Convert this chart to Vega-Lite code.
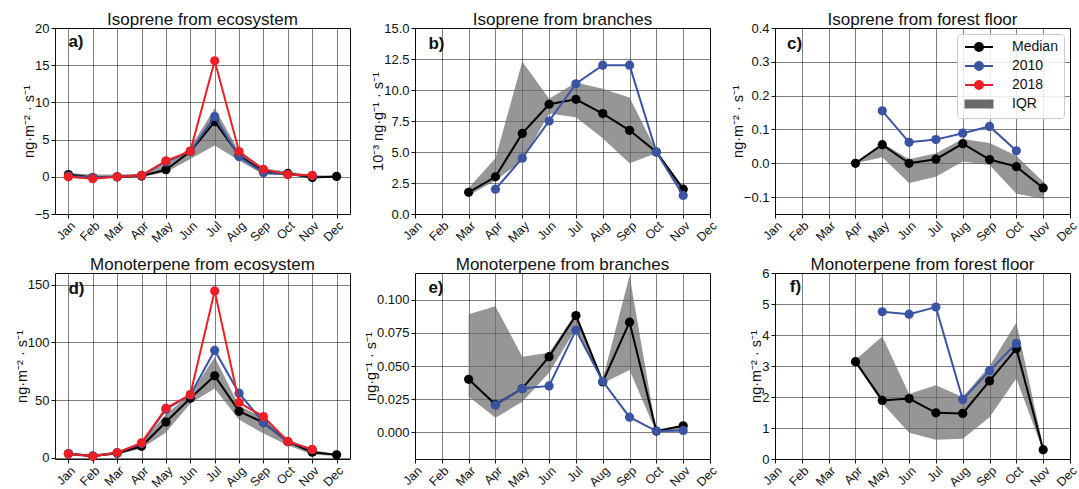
{
  "$schema": "https://vega.github.io/schema/vega-lite/v6.json",
  "padding": {"left": 13, "top": 10, "right": 8, "bottom": 2},
  "background": "white",
  "config": {
    "font": "Liberation Sans",
    "view": {"stroke": "#111111", "strokeWidth": 1},
    "axis": {"domain": false, "tickColor": "#111111", "tickSize": 4, "tickCount": 20, "labelFontSize": 13, "labelColor": "#111111", "labelFont": "Liberation Sans", "titleFont": "Liberation Sans", "titleFontSize": 14.5, "titleFontWeight": "normal", "titleColor": "#111111", "grid": true, "gridColor": "#000000", "gridOpacity": 0.5, "gridWidth": 1, "labelPadding": 2, "titlePadding": -2, "labelOverlap": false, "labelFlush": false, "labelBound": false},
    "title": {"font": "Liberation Sans", "fontSize": 17, "fontWeight": "normal", "color": "#111111", "offset": 1}
  },
  "data": {"values": [
    {"p":"a","s":"Median","m":1,"v":0.3},{"p":"a","s":"Median","m":2,"v":-0.1},{"p":"a","s":"Median","m":3,"v":0.0},{"p":"a","s":"Median","m":4,"v":0.1},{"p":"a","s":"Median","m":5,"v":0.95},{"p":"a","s":"Median","m":6,"v":3.4},{"p":"a","s":"Median","m":7,"v":7.4},{"p":"a","s":"Median","m":8,"v":2.9},{"p":"a","s":"Median","m":9,"v":0.7},{"p":"a","s":"Median","m":10,"v":0.45},{"p":"a","s":"Median","m":11,"v":-0.1},{"p":"a","s":"Median","m":12,"v":0.05},
    {"p":"a","s":"2010","m":1,"v":0.1},{"p":"a","s":"2010","m":2,"v":-0.1},{"p":"a","s":"2010","m":3,"v":0.0},{"p":"a","s":"2010","m":4,"v":0.2},{"p":"a","s":"2010","m":5,"v":2.0},{"p":"a","s":"2010","m":6,"v":3.4},{"p":"a","s":"2010","m":7,"v":8.1},{"p":"a","s":"2010","m":8,"v":2.7},{"p":"a","s":"2010","m":9,"v":0.55},{"p":"a","s":"2010","m":10,"v":0.3},{"p":"a","s":"2010","m":11,"v":0.15},
    {"p":"a","s":"2018","m":1,"v":0.0},{"p":"a","s":"2018","m":2,"v":-0.25},{"p":"a","s":"2018","m":3,"v":0.0},{"p":"a","s":"2018","m":4,"v":0.2},{"p":"a","s":"2018","m":5,"v":2.15},{"p":"a","s":"2018","m":6,"v":3.45},{"p":"a","s":"2018","m":7,"v":15.6},{"p":"a","s":"2018","m":8,"v":3.4},{"p":"a","s":"2018","m":9,"v":1.0},{"p":"a","s":"2018","m":10,"v":0.3},{"p":"a","s":"2018","m":11,"v":0.2},
    {"p":"a","s":"IQR","m":1,"lo":-0.1,"hi":0.5},{"p":"a","s":"IQR","m":2,"lo":-0.3,"hi":0.3},{"p":"a","s":"IQR","m":3,"lo":-0.1,"hi":0.3},{"p":"a","s":"IQR","m":4,"lo":0.0,"hi":0.4},{"p":"a","s":"IQR","m":5,"lo":0.6,"hi":1.7},{"p":"a","s":"IQR","m":6,"lo":2.4,"hi":3.9},{"p":"a","s":"IQR","m":7,"lo":4.2,"hi":9.2},{"p":"a","s":"IQR","m":8,"lo":2.2,"hi":3.4},{"p":"a","s":"IQR","m":9,"lo":0.3,"hi":1.1},{"p":"a","s":"IQR","m":10,"lo":0.2,"hi":0.7},{"p":"a","s":"IQR","m":11,"lo":-0.2,"hi":0.2},{"p":"a","s":"IQR","m":12,"lo":0.0,"hi":0.15},

    {"p":"b","s":"Median","m":3,"v":1.75},{"p":"b","s":"Median","m":4,"v":3.0},{"p":"b","s":"Median","m":5,"v":6.5},{"p":"b","s":"Median","m":6,"v":8.85},{"p":"b","s":"Median","m":7,"v":9.25},{"p":"b","s":"Median","m":8,"v":8.1},{"p":"b","s":"Median","m":9,"v":6.75},{"p":"b","s":"Median","m":10,"v":5.0},{"p":"b","s":"Median","m":11,"v":2.0},
    {"p":"b","s":"2010","m":4,"v":2.0},{"p":"b","s":"2010","m":5,"v":4.5},{"p":"b","s":"2010","m":6,"v":7.5},{"p":"b","s":"2010","m":7,"v":10.5},{"p":"b","s":"2010","m":8,"v":12.0},{"p":"b","s":"2010","m":9,"v":12.0},{"p":"b","s":"2010","m":10,"v":5.0},{"p":"b","s":"2010","m":11,"v":1.5},
    {"p":"b","s":"IQR","m":3,"lo":1.5,"hi":2.1},{"p":"b","s":"IQR","m":4,"lo":2.7,"hi":4.5},{"p":"b","s":"IQR","m":5,"lo":4.3,"hi":12.3},{"p":"b","s":"IQR","m":6,"lo":8.1,"hi":9.3},{"p":"b","s":"IQR","m":7,"lo":7.8,"hi":10.6},{"p":"b","s":"IQR","m":8,"lo":6.1,"hi":10.1},{"p":"b","s":"IQR","m":9,"lo":4.1,"hi":9.4},{"p":"b","s":"IQR","m":10,"lo":4.9,"hi":5.1},{"p":"b","s":"IQR","m":11,"lo":1.7,"hi":2.2},

    {"p":"c","s":"Median","m":4,"v":0.0},{"p":"c","s":"Median","m":5,"v":0.055},{"p":"c","s":"Median","m":6,"v":0.0},{"p":"c","s":"Median","m":7,"v":0.012},{"p":"c","s":"Median","m":8,"v":0.058},{"p":"c","s":"Median","m":9,"v":0.011},{"p":"c","s":"Median","m":10,"v":-0.01},{"p":"c","s":"Median","m":11,"v":-0.073},
    {"p":"c","s":"2010","m":5,"v":0.155},{"p":"c","s":"2010","m":6,"v":0.062},{"p":"c","s":"2010","m":7,"v":0.07},{"p":"c","s":"2010","m":8,"v":0.089},{"p":"c","s":"2010","m":9,"v":0.109},{"p":"c","s":"2010","m":10,"v":0.037},
    {"p":"c","s":"IQR","m":4,"lo":0.0,"hi":0.002},{"p":"c","s":"IQR","m":5,"lo":0.018,"hi":0.06},{"p":"c","s":"IQR","m":6,"lo":-0.058,"hi":0.012},{"p":"c","s":"IQR","m":7,"lo":-0.04,"hi":0.03},{"p":"c","s":"IQR","m":8,"lo":0.005,"hi":0.072},{"p":"c","s":"IQR","m":9,"lo":-0.005,"hi":0.06},{"p":"c","s":"IQR","m":10,"lo":-0.09,"hi":0.022},{"p":"c","s":"IQR","m":11,"lo":-0.105,"hi":-0.055},

    {"p":"d","s":"Median","m":1,"v":3.5},{"p":"d","s":"Median","m":2,"v":1.5},{"p":"d","s":"Median","m":3,"v":4.0},{"p":"d","s":"Median","m":4,"v":10.0},{"p":"d","s":"Median","m":5,"v":31},{"p":"d","s":"Median","m":6,"v":51.5},{"p":"d","s":"Median","m":7,"v":71},{"p":"d","s":"Median","m":8,"v":40.3},{"p":"d","s":"Median","m":9,"v":30.5},{"p":"d","s":"Median","m":10,"v":14},{"p":"d","s":"Median","m":11,"v":4.9},{"p":"d","s":"Median","m":12,"v":2.6},
    {"p":"d","s":"2010","m":1,"v":3.5},{"p":"d","s":"2010","m":2,"v":1.5},{"p":"d","s":"2010","m":3,"v":4.5},{"p":"d","s":"2010","m":4,"v":12.5},{"p":"d","s":"2010","m":5,"v":42},{"p":"d","s":"2010","m":6,"v":54.5},{"p":"d","s":"2010","m":7,"v":93},{"p":"d","s":"2010","m":8,"v":56},{"p":"d","s":"2010","m":9,"v":30.5},{"p":"d","s":"2010","m":10,"v":14},{"p":"d","s":"2010","m":11,"v":7},
    {"p":"d","s":"2018","m":1,"v":3.5},{"p":"d","s":"2018","m":2,"v":1.3},{"p":"d","s":"2018","m":3,"v":4.4},{"p":"d","s":"2018","m":4,"v":13},{"p":"d","s":"2018","m":5,"v":43},{"p":"d","s":"2018","m":6,"v":54.8},{"p":"d","s":"2018","m":7,"v":144.5},{"p":"d","s":"2018","m":8,"v":47.9},{"p":"d","s":"2018","m":9,"v":35.7},{"p":"d","s":"2018","m":10,"v":14.2},{"p":"d","s":"2018","m":11,"v":7.3},
    {"p":"d","s":"IQR","m":1,"lo":2,"hi":4.5},{"p":"d","s":"IQR","m":2,"lo":0.5,"hi":3},{"p":"d","s":"IQR","m":3,"lo":3,"hi":5.5},{"p":"d","s":"IQR","m":4,"lo":8,"hi":13},{"p":"d","s":"IQR","m":5,"lo":22,"hi":38},{"p":"d","s":"IQR","m":6,"lo":47,"hi":55},{"p":"d","s":"IQR","m":7,"lo":60,"hi":87},{"p":"d","s":"IQR","m":8,"lo":33,"hi":45},{"p":"d","s":"IQR","m":9,"lo":21,"hi":35},{"p":"d","s":"IQR","m":10,"lo":11,"hi":16},{"p":"d","s":"IQR","m":11,"lo":3,"hi":7},{"p":"d","s":"IQR","m":12,"lo":1.5,"hi":3},

    {"p":"e","s":"Median","m":3,"v":0.040},{"p":"e","s":"Median","m":4,"v":0.021},{"p":"e","s":"Median","m":5,"v":0.033},{"p":"e","s":"Median","m":6,"v":0.057},{"p":"e","s":"Median","m":7,"v":0.088},{"p":"e","s":"Median","m":8,"v":0.038},{"p":"e","s":"Median","m":9,"v":0.083},{"p":"e","s":"Median","m":10,"v":0.001},{"p":"e","s":"Median","m":11,"v":0.005},
    {"p":"e","s":"2010","m":4,"v":0.0205},{"p":"e","s":"2010","m":5,"v":0.033},{"p":"e","s":"2010","m":6,"v":0.035},{"p":"e","s":"2010","m":7,"v":0.077},{"p":"e","s":"2010","m":8,"v":0.0385},{"p":"e","s":"2010","m":9,"v":0.0115},{"p":"e","s":"2010","m":10,"v":0.001},{"p":"e","s":"2010","m":11,"v":0.0015},
    {"p":"e","s":"IQR","m":3,"lo":0.027,"hi":0.089},{"p":"e","s":"IQR","m":4,"lo":0.011,"hi":0.095},{"p":"e","s":"IQR","m":5,"lo":0.023,"hi":0.057},{"p":"e","s":"IQR","m":6,"lo":0.045,"hi":0.060},{"p":"e","s":"IQR","m":7,"lo":0.078,"hi":0.090},{"p":"e","s":"IQR","m":8,"lo":0.037,"hi":0.040},{"p":"e","s":"IQR","m":9,"lo":0.047,"hi":0.118},{"p":"e","s":"IQR","m":10,"lo":0.0,"hi":0.001},{"p":"e","s":"IQR","m":11,"lo":0.001,"hi":0.005},

    {"p":"f","s":"Median","m":4,"v":3.14},{"p":"f","s":"Median","m":5,"v":1.89},{"p":"f","s":"Median","m":6,"v":1.95},{"p":"f","s":"Median","m":7,"v":1.49},{"p":"f","s":"Median","m":8,"v":1.47},{"p":"f","s":"Median","m":9,"v":2.52},{"p":"f","s":"Median","m":10,"v":3.56},{"p":"f","s":"Median","m":11,"v":0.3},
    {"p":"f","s":"2010","m":5,"v":4.75},{"p":"f","s":"2010","m":6,"v":4.67},{"p":"f","s":"2010","m":7,"v":4.9},{"p":"f","s":"2010","m":8,"v":1.92},{"p":"f","s":"2010","m":9,"v":2.85},{"p":"f","s":"2010","m":10,"v":3.73},
    {"p":"f","s":"IQR","m":4,"lo":3.1,"hi":3.2},{"p":"f","s":"IQR","m":5,"lo":1.8,"hi":3.95},{"p":"f","s":"IQR","m":6,"lo":0.85,"hi":2.1},{"p":"f","s":"IQR","m":7,"lo":0.62,"hi":2.38},{"p":"f","s":"IQR","m":8,"lo":0.65,"hi":2.0},{"p":"f","s":"IQR","m":9,"lo":1.35,"hi":3.0},{"p":"f","s":"IQR","m":10,"lo":2.6,"hi":4.4},{"p":"f","s":"IQR","m":11,"lo":0.25,"hi":0.4}
  ]},
  "columns": 3,
  "spacing": {"row": 59, "column": 65},
  "bounds": "flush",
  "resolve": {"scale": {"color": "independent", "x": "independent", "y": "independent"}, "legend": {"color": "independent"}},
  "concat": [
    {
      "width": 295, "height": 186,
      "title": {"text": "Isoprene from ecosystem", "offset": -6.5},
      "transform": [{"filter": "datum.p === 'a'"}],
      "encoding": {"x": {"field": "m", "type": "quantitative", "scale": {"domain": [0.45, 12.55], "nice": false, "zero": false}, "axis": {"values": [1,2,3,4,5,6,7,8,9,10,11,12], "tickCount": 20, "labelExpr": "['Jan','Feb','Mar','Apr','May','Jun','Jul','Aug','Sep','Oct','Nov','Dec'][round(datum.value)-1]", "labelAngle": -45, "labelAlign": "right", "labelBaseline": "top", "labelFontSize": 12.5, "labelPadding": 1, "labelOverlap": false, "title": null}}},
      "layer": [
        {"transform": [{"filter": "datum.s === 'IQR'"}], "mark": {"type": "area", "opacity": 0.7}, "encoding": {"y": {"field": "lo", "type": "quantitative", "title": "ng·m⁻² · s⁻¹", "scale": {"domain": [-5, 20], "nice": false, "zero": false}, "axis": {"values": [-5,0,5,10,15,20], "tickCount": 20, "format": "d", "labelOverlap": false}}, "y2": {"field": "hi"}, "color": {"field": "s", "type": "nominal", "scale": {"domain": ["Median","2010","2018","IQR"], "range": ["#000000","#3a54a4","#ed1f24","#6a6a6a"]}, "legend": null}}},
        {"transform": [{"filter": "datum.s === 'Median'"}], "mark": {"type": "line", "strokeWidth": 2}, "encoding": {"y": {"field": "v", "type": "quantitative", "title": "ng·m⁻² · s⁻¹"}, "color": {"field": "s", "type": "nominal", "legend": null}}},
        {"transform": [{"filter": "datum.s === 'Median'"}], "mark": {"type": "point", "filled": true, "size": 85, "opacity": 1}, "encoding": {"y": {"field": "v", "type": "quantitative", "title": "ng·m⁻² · s⁻¹"}, "color": {"field": "s", "type": "nominal", "legend": null}}},
        {"transform": [{"filter": "datum.s === '2010'"}], "mark": {"type": "line", "strokeWidth": 2}, "encoding": {"y": {"field": "v", "type": "quantitative", "title": "ng·m⁻² · s⁻¹"}, "color": {"field": "s", "type": "nominal", "legend": null}}},
        {"transform": [{"filter": "datum.s === '2010'"}], "mark": {"type": "point", "filled": true, "size": 85, "opacity": 1}, "encoding": {"y": {"field": "v", "type": "quantitative", "title": "ng·m⁻² · s⁻¹"}, "color": {"field": "s", "type": "nominal", "legend": null}}},
        {"transform": [{"filter": "datum.s === '2018'"}], "mark": {"type": "line", "strokeWidth": 2}, "encoding": {"y": {"field": "v", "type": "quantitative", "title": "ng·m⁻² · s⁻¹"}, "color": {"field": "s", "type": "nominal", "legend": null}}},
        {"transform": [{"filter": "datum.s === '2018'"}], "mark": {"type": "point", "filled": true, "size": 85, "opacity": 1}, "encoding": {"y": {"field": "v", "type": "quantitative", "title": "ng·m⁻² · s⁻¹"}, "color": {"field": "s", "type": "nominal", "legend": null}}},
        {"transform": [{"filter": "datum.s === 'Median' && datum.m === 7"}], "mark": {"type": "text", "font": "Liberation Sans", "fontWeight": "bold", "fontSize": 17, "align": "left", "baseline": "middle", "color": "#111111"}, "encoding": {"x": {"datum": 1, "type": "quantitative"}, "y": {"datum": 18.1, "type": "quantitative", "title": "ng·m⁻² · s⁻¹"}, "text": {"value": "a)"}}}
      ]
    },
    {
      "width": 295, "height": 186,
      "title": {"text": "Isoprene from branches", "offset": -6.5},
      "transform": [{"filter": "datum.p === 'b'"}],
      "encoding": {"x": {"field": "m", "type": "quantitative", "scale": {"domain": [1, 12], "nice": false, "zero": false}, "axis": {"values": [1,2,3,4,5,6,7,8,9,10,11,12], "tickCount": 20, "labelExpr": "['Jan','Feb','Mar','Apr','May','Jun','Jul','Aug','Sep','Oct','Nov','Dec'][round(datum.value)-1]", "labelAngle": -45, "labelAlign": "right", "labelBaseline": "top", "labelFontSize": 12.5, "labelPadding": 1, "labelOverlap": false, "title": null}}},
      "layer": [
        {"transform": [{"filter": "datum.s === 'IQR'"}], "mark": {"type": "area", "opacity": 0.7}, "encoding": {"y": {"field": "lo", "type": "quantitative", "title": "10⁻³ ng·g⁻¹ · s⁻¹", "scale": {"domain": [0, 15], "nice": false, "zero": false}, "axis": {"values": [0,2.5,5,7.5,10,12.5,15], "tickCount": 20, "format": ".1f", "labelOverlap": false}}, "y2": {"field": "hi"}, "color": {"field": "s", "type": "nominal", "scale": {"domain": ["Median","2010","2018","IQR"], "range": ["#000000","#3a54a4","#ed1f24","#6a6a6a"]}, "legend": null}}},
        {"transform": [{"filter": "datum.s === 'Median'"}], "mark": {"type": "line", "strokeWidth": 2}, "encoding": {"y": {"field": "v", "type": "quantitative", "title": "10⁻³ ng·g⁻¹ · s⁻¹"}, "color": {"field": "s", "type": "nominal", "legend": null}}},
        {"transform": [{"filter": "datum.s === 'Median'"}], "mark": {"type": "point", "filled": true, "size": 85, "opacity": 1}, "encoding": {"y": {"field": "v", "type": "quantitative", "title": "10⁻³ ng·g⁻¹ · s⁻¹"}, "color": {"field": "s", "type": "nominal", "legend": null}}},
        {"transform": [{"filter": "datum.s === '2010'"}], "mark": {"type": "line", "strokeWidth": 2}, "encoding": {"y": {"field": "v", "type": "quantitative", "title": "10⁻³ ng·g⁻¹ · s⁻¹"}, "color": {"field": "s", "type": "nominal", "legend": null}}},
        {"transform": [{"filter": "datum.s === '2010'"}], "mark": {"type": "point", "filled": true, "size": 85, "opacity": 1}, "encoding": {"y": {"field": "v", "type": "quantitative", "title": "10⁻³ ng·g⁻¹ · s⁻¹"}, "color": {"field": "s", "type": "nominal", "legend": null}}},
        {"transform": [{"filter": "datum.s === 'Median' && datum.m === 7"}], "mark": {"type": "text", "font": "Liberation Sans", "fontWeight": "bold", "fontSize": 17, "align": "left", "baseline": "middle", "color": "#111111"}, "encoding": {"x": {"datum": 1.5, "type": "quantitative"}, "y": {"datum": 13.7, "type": "quantitative", "title": "10⁻³ ng·g⁻¹ · s⁻¹"}, "text": {"value": "b)"}}}
      ]
    },
    {
      "width": 295, "height": 186,
      "title": {"text": "Isoprene from forest floor", "offset": -6.5},
      "transform": [{"filter": "datum.p === 'c'"}],
      "encoding": {"x": {"field": "m", "type": "quantitative", "scale": {"domain": [1, 12], "nice": false, "zero": false}, "axis": {"values": [1,2,3,4,5,6,7,8,9,10,11,12], "tickCount": 20, "labelExpr": "['Jan','Feb','Mar','Apr','May','Jun','Jul','Aug','Sep','Oct','Nov','Dec'][round(datum.value)-1]", "labelAngle": -45, "labelAlign": "right", "labelBaseline": "top", "labelFontSize": 12.5, "labelPadding": 1, "labelOverlap": false, "title": null}}},
      "layer": [
        {"transform": [{"filter": "datum.s === 'IQR'"}], "mark": {"type": "area", "opacity": 0.7}, "encoding": {"y": {"field": "lo", "type": "quantitative", "title": "ng·m⁻² · s⁻¹", "scale": {"domain": [-0.15, 0.4], "nice": false, "zero": false}, "axis": {"values": [-0.1,0,0.1,0.2,0.3,0.4], "tickCount": 20, "format": ".1f", "labelOverlap": false}}, "y2": {"field": "hi"}, "color": {"field": "s", "type": "nominal", "scale": {"domain": ["Median","2010","2018","IQR"], "range": ["#000000","#3a54a4","#ed1f24","#6a6a6a"]},
          "legend": {"orient": "top-right", "offset": 6, "title": null, "labelFont": "Liberation Sans", "labelFontSize": 14, "labelColor": "#111111", "symbolSize": 100, "symbolOffset": 9, "labelOffset": 26, "symbolStrokeWidth": 2, "padding": 6, "rowPadding": 3, "fillColor": "rgba(255,255,255,0.85)", "strokeColor": "#cccccc", "cornerRadius": 3,
            "symbolType": {"expr": "datum.value === 'IQR' ? 'M-2.7,-0.7H2.7V0.7H-2.7Z' : 'M-2.8,0H2.8M0.8,0A0.8,0.8,0,1,1,-0.8,0A0.8,0.8,0,1,1,0.8,0Z'"},
            "symbolOpacity": {"expr": "datum.value === 'IQR' ? 0.65 : 1"}}}}},
        {"transform": [{"filter": "datum.s === 'Median'"}], "mark": {"type": "line", "strokeWidth": 2}, "encoding": {"y": {"field": "v", "type": "quantitative", "title": "ng·m⁻² · s⁻¹"}, "color": {"field": "s", "type": "nominal"}}},
        {"transform": [{"filter": "datum.s === 'Median'"}], "mark": {"type": "point", "filled": true, "size": 85, "opacity": 1}, "encoding": {"y": {"field": "v", "type": "quantitative", "title": "ng·m⁻² · s⁻¹"}, "color": {"field": "s", "type": "nominal"}}},
        {"transform": [{"filter": "datum.s === '2010'"}], "mark": {"type": "line", "strokeWidth": 2}, "encoding": {"y": {"field": "v", "type": "quantitative", "title": "ng·m⁻² · s⁻¹"}, "color": {"field": "s", "type": "nominal"}}},
        {"transform": [{"filter": "datum.s === '2010'"}], "mark": {"type": "point", "filled": true, "size": 85, "opacity": 1}, "encoding": {"y": {"field": "v", "type": "quantitative", "title": "ng·m⁻² · s⁻¹"}, "color": {"field": "s", "type": "nominal"}}},
        {"transform": [{"filter": "datum.s === 'Median' && datum.m === 7"}], "mark": {"type": "text", "font": "Liberation Sans", "fontWeight": "bold", "fontSize": 17, "align": "left", "baseline": "middle", "color": "#111111"}, "encoding": {"x": {"datum": 1.45, "type": "quantitative"}, "y": {"datum": 0.353, "type": "quantitative", "title": "ng·m⁻² · s⁻¹"}, "text": {"value": "c)"}}}
      ]
    },
    {
      "width": 295, "height": 186,
      "title": {"text": "Monoterpene from ecosystem", "offset": -0.5},
      "transform": [{"filter": "datum.p === 'd'"}],
      "encoding": {"x": {"field": "m", "type": "quantitative", "scale": {"domain": [0.45, 12.55], "nice": false, "zero": false}, "axis": {"values": [1,2,3,4,5,6,7,8,9,10,11,12], "tickCount": 20, "labelExpr": "['Jan','Feb','Mar','Apr','May','Jun','Jul','Aug','Sep','Oct','Nov','Dec'][round(datum.value)-1]", "labelAngle": -45, "labelAlign": "right", "labelBaseline": "top", "labelFontSize": 12.5, "labelPadding": 1, "labelOverlap": false, "title": null}}},
      "layer": [
        {"transform": [{"filter": "datum.s === 'IQR'"}], "mark": {"type": "area", "opacity": 0.7}, "encoding": {"y": {"field": "lo", "type": "quantitative", "title": "ng·m⁻² · s⁻¹", "scale": {"domain": [-1, 160], "nice": false, "zero": false}, "axis": {"values": [0,50,100,150], "tickCount": 20, "format": "d", "labelOverlap": false}}, "y2": {"field": "hi"}, "color": {"field": "s", "type": "nominal", "scale": {"domain": ["Median","2010","2018","IQR"], "range": ["#000000","#3a54a4","#ed1f24","#6a6a6a"]}, "legend": null}}},
        {"transform": [{"filter": "datum.s === 'Median'"}], "mark": {"type": "line", "strokeWidth": 2}, "encoding": {"y": {"field": "v", "type": "quantitative", "title": "ng·m⁻² · s⁻¹"}, "color": {"field": "s", "type": "nominal", "legend": null}}},
        {"transform": [{"filter": "datum.s === 'Median'"}], "mark": {"type": "point", "filled": true, "size": 85, "opacity": 1}, "encoding": {"y": {"field": "v", "type": "quantitative", "title": "ng·m⁻² · s⁻¹"}, "color": {"field": "s", "type": "nominal", "legend": null}}},
        {"transform": [{"filter": "datum.s === '2010'"}], "mark": {"type": "line", "strokeWidth": 2}, "encoding": {"y": {"field": "v", "type": "quantitative", "title": "ng·m⁻² · s⁻¹"}, "color": {"field": "s", "type": "nominal", "legend": null}}},
        {"transform": [{"filter": "datum.s === '2010'"}], "mark": {"type": "point", "filled": true, "size": 85, "opacity": 1}, "encoding": {"y": {"field": "v", "type": "quantitative", "title": "ng·m⁻² · s⁻¹"}, "color": {"field": "s", "type": "nominal", "legend": null}}},
        {"transform": [{"filter": "datum.s === '2018'"}], "mark": {"type": "line", "strokeWidth": 2}, "encoding": {"y": {"field": "v", "type": "quantitative", "title": "ng·m⁻² · s⁻¹"}, "color": {"field": "s", "type": "nominal", "legend": null}}},
        {"transform": [{"filter": "datum.s === '2018'"}], "mark": {"type": "point", "filled": true, "size": 85, "opacity": 1}, "encoding": {"y": {"field": "v", "type": "quantitative", "title": "ng·m⁻² · s⁻¹"}, "color": {"field": "s", "type": "nominal", "legend": null}}},
        {"transform": [{"filter": "datum.s === 'Median' && datum.m === 7"}], "mark": {"type": "text", "font": "Liberation Sans", "fontWeight": "bold", "fontSize": 17, "align": "left", "baseline": "middle", "color": "#111111"}, "encoding": {"x": {"datum": 1, "type": "quantitative"}, "y": {"datum": 146, "type": "quantitative", "title": "ng·m⁻² · s⁻¹"}, "text": {"value": "d)"}}}
      ]
    },
    {
      "width": 295, "height": 186,
      "title": {"text": "Monoterpene from branches", "offset": -0.5},
      "transform": [{"filter": "datum.p === 'e'"}],
      "encoding": {"x": {"field": "m", "type": "quantitative", "scale": {"domain": [1, 12], "nice": false, "zero": false}, "axis": {"values": [1,2,3,4,5,6,7,8,9,10,11,12], "tickCount": 20, "labelExpr": "['Jan','Feb','Mar','Apr','May','Jun','Jul','Aug','Sep','Oct','Nov','Dec'][round(datum.value)-1]", "labelAngle": -45, "labelAlign": "right", "labelBaseline": "top", "labelFontSize": 12.5, "labelPadding": 1, "labelOverlap": false, "title": null}}},
      "layer": [
        {"transform": [{"filter": "datum.s === 'IQR'"}], "mark": {"type": "area", "opacity": 0.7}, "encoding": {"y": {"field": "lo", "type": "quantitative", "title": "ng·g⁻¹ · s⁻¹", "scale": {"domain": [-0.02, 0.12], "nice": false, "zero": false}, "axis": {"values": [0,0.025,0.05,0.075,0.1], "tickCount": 20, "format": ".3f", "labelOverlap": false}}, "y2": {"field": "hi"}, "color": {"field": "s", "type": "nominal", "scale": {"domain": ["Median","2010","2018","IQR"], "range": ["#000000","#3a54a4","#ed1f24","#6a6a6a"]}, "legend": null}}},
        {"transform": [{"filter": "datum.s === 'Median'"}], "mark": {"type": "line", "strokeWidth": 2}, "encoding": {"y": {"field": "v", "type": "quantitative", "title": "ng·g⁻¹ · s⁻¹"}, "color": {"field": "s", "type": "nominal", "legend": null}}},
        {"transform": [{"filter": "datum.s === 'Median'"}], "mark": {"type": "point", "filled": true, "size": 85, "opacity": 1}, "encoding": {"y": {"field": "v", "type": "quantitative", "title": "ng·g⁻¹ · s⁻¹"}, "color": {"field": "s", "type": "nominal", "legend": null}}},
        {"transform": [{"filter": "datum.s === '2010'"}], "mark": {"type": "line", "strokeWidth": 2}, "encoding": {"y": {"field": "v", "type": "quantitative", "title": "ng·g⁻¹ · s⁻¹"}, "color": {"field": "s", "type": "nominal", "legend": null}}},
        {"transform": [{"filter": "datum.s === '2010'"}], "mark": {"type": "point", "filled": true, "size": 85, "opacity": 1}, "encoding": {"y": {"field": "v", "type": "quantitative", "title": "ng·g⁻¹ · s⁻¹"}, "color": {"field": "s", "type": "nominal", "legend": null}}},
        {"transform": [{"filter": "datum.s === 'Median' && datum.m === 7"}], "mark": {"type": "text", "font": "Liberation Sans", "fontWeight": "bold", "fontSize": 17, "align": "left", "baseline": "middle", "color": "#111111"}, "encoding": {"x": {"datum": 1.5, "type": "quantitative"}, "y": {"datum": 0.1086, "type": "quantitative", "title": "ng·g⁻¹ · s⁻¹"}, "text": {"value": "e)"}}}
      ]
    },
    {
      "width": 295, "height": 186,
      "title": {"text": "Monoterpene from forest floor", "offset": -6.5},
      "transform": [{"filter": "datum.p === 'f'"}],
      "encoding": {"x": {"field": "m", "type": "quantitative", "scale": {"domain": [1, 12], "nice": false, "zero": false}, "axis": {"values": [1,2,3,4,5,6,7,8,9,10,11,12], "tickCount": 20, "labelExpr": "['Jan','Feb','Mar','Apr','May','Jun','Jul','Aug','Sep','Oct','Nov','Dec'][round(datum.value)-1]", "labelAngle": -45, "labelAlign": "right", "labelBaseline": "top", "labelFontSize": 12.5, "labelPadding": 1, "labelOverlap": false, "title": null}}},
      "layer": [
        {"transform": [{"filter": "datum.s === 'IQR'"}], "mark": {"type": "area", "opacity": 0.7}, "encoding": {"y": {"field": "lo", "type": "quantitative", "title": "ng·m⁻² · s⁻¹", "scale": {"domain": [0, 6], "nice": false, "zero": false}, "axis": {"values": [0,1,2,3,4,5,6], "tickCount": 20, "format": "d", "labelOverlap": false}}, "y2": {"field": "hi"}, "color": {"field": "s", "type": "nominal", "scale": {"domain": ["Median","2010","2018","IQR"], "range": ["#000000","#3a54a4","#ed1f24","#6a6a6a"]}, "legend": null}}},
        {"transform": [{"filter": "datum.s === 'Median'"}], "mark": {"type": "line", "strokeWidth": 2}, "encoding": {"y": {"field": "v", "type": "quantitative", "title": "ng·m⁻² · s⁻¹"}, "color": {"field": "s", "type": "nominal", "legend": null}}},
        {"transform": [{"filter": "datum.s === 'Median'"}], "mark": {"type": "point", "filled": true, "size": 85, "opacity": 1}, "encoding": {"y": {"field": "v", "type": "quantitative", "title": "ng·m⁻² · s⁻¹"}, "color": {"field": "s", "type": "nominal", "legend": null}}},
        {"transform": [{"filter": "datum.s === '2010'"}], "mark": {"type": "line", "strokeWidth": 2}, "encoding": {"y": {"field": "v", "type": "quantitative", "title": "ng·m⁻² · s⁻¹"}, "color": {"field": "s", "type": "nominal", "legend": null}}},
        {"transform": [{"filter": "datum.s === '2010'"}], "mark": {"type": "point", "filled": true, "size": 85, "opacity": 1}, "encoding": {"y": {"field": "v", "type": "quantitative", "title": "ng·m⁻² · s⁻¹"}, "color": {"field": "s", "type": "nominal", "legend": null}}},
        {"transform": [{"filter": "datum.s === 'Median' && datum.m === 7"}], "mark": {"type": "text", "font": "Liberation Sans", "fontWeight": "bold", "fontSize": 17, "align": "left", "baseline": "middle", "color": "#111111"}, "encoding": {"x": {"datum": 1.55, "type": "quantitative"}, "y": {"datum": 5.55, "type": "quantitative", "title": "ng·m⁻² · s⁻¹"}, "text": {"value": "f)"}}}
      ]
    }
  ]
}
